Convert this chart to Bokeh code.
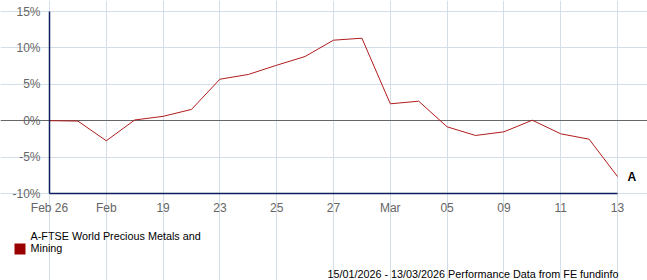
from bokeh.plotting import figure
from bokeh.models import (FixedTicker, Range1d, Label, Grid, BoxAnnotation)
from bokeh.core.properties import value
from bokeh.embed import file_html
from bokeh.resources import INLINE

# Data
tick_labels = ["Feb 26", "Feb", "19", "23", "25", "27", "Mar", "05", "09", "11", "13"]
series_values = [0.0, -0.05, -2.76, 0.1, 0.6, 1.55, 5.7, 6.35, 7.62, 8.82, 11.06,
                 11.33, 2.32, 2.68, -0.84, -2.03, -1.53, 0.07, -1.8, -2.54, -7.67]
y_ticks = [-10, -5, 0, 5, 10, 15]
series_name_line1 = "A-FTSE World Precious Metals and"
series_name_line2 = "Mining"
series_code = "A"
footer = "15/01/2026 - 13/03/2026 Performance Data from FE fundinfo"

x_idx = list(range(len(series_values)))

FONT = "Liberation Sans"
W, H = 647, 280
# plot-area placement in pixels (layout only)
PL, PR, PT, PB = 49, 617, 11, 193
x0, x1 = x_idx[0], x_idx[-1]
y0, y1 = y_ticks[0], y_ticks[-1]
sx = (PR - PL) / (x1 - x0)
sy = (PB - PT) / (y1 - y0)

p = figure(width=W, height=H, output_backend="svg", toolbar_location=None,
           x_range=Range1d(x0 - PL / sx, x1 + (W - PR) / sx),
           y_range=Range1d(y0 - (H - PB) / sy, y1 + PT / sy),
           min_border=0)
p.outline_line_color = None
p.background_fill_color = "white"
p.border_fill_color = "white"

grid_col = "#d3dee8"
axis_col = "#0d1f5e"
p.xaxis.ticker = FixedTicker(ticks=[i * 2 for i in range(len(tick_labels))])
p.xaxis.major_label_overrides = {i * 2: t for i, t in enumerate(tick_labels)}
p.yaxis.ticker = FixedTicker(ticks=y_ticks)
p.yaxis.major_label_overrides = {v: f"{v}%" for v in y_ticks}
p.xaxis.fixed_location = y0
p.yaxis.fixed_location = x0
p.xaxis.bounds = (x0, x1)
p.yaxis.bounds = (y0, y1)
for ax in (p.xaxis[0], p.yaxis[0]):
    ax.axis_line_color = axis_col
    ax.axis_line_width = 1.5
    ax.major_tick_line_color = None
    ax.minor_tick_line_color = None
    ax.major_tick_out = 0
    ax.major_tick_in = 0
    ax.major_label_text_color = "#666666"
    ax.major_label_text_font = FONT
    ax.major_label_text_font_size = "12px"
p.xaxis.major_label_standoff = 7
p.yaxis.major_label_standoff = 9

p.xgrid.grid_line_color = grid_col
p.ygrid.grid_line_color = grid_col
p.xgrid.ticker = p.xaxis.ticker
p.ygrid.ticker = p.yaxis.ticker
p.xgrid.bounds = (y0, y1)
p.ygrid.bounds = (x0, x1)

# zero line
p.add_layout(Grid(dimension=1, ticker=FixedTicker(ticks=[0]), bounds=(x0, x1),
                  grid_line_color="#666666", grid_line_width=1))

p.line(x_idx, series_values, line_color="#b01c1c", line_width=1)

# end-of-series code
p.text(x=[x_idx[-1]], y=[series_values[-1]], text=[series_code], x_offset=10,
       text_font=value(FONT), text_font_style="bold", text_font_size="12px",
       text_color="black", text_baseline="middle", text_align="left")

# legend key square
p.add_layout(BoxAnnotation(left=14, right=25, top=H - 243, bottom=H - 254,
                           left_units="screen", right_units="screen",
                           top_units="screen", bottom_units="screen",
                           fill_color="#990000", fill_alpha=1, line_color=None))

LEG_FS = "10.8px"
p.add_layout(Label(x=30, y=H - 235, x_units="screen", y_units="screen",
                   text=series_name_line1, text_font=FONT,
                   text_font_size=LEG_FS, text_color="black",
                   text_baseline="middle"))
p.add_layout(Label(x=30, y=H - 247.5, x_units="screen", y_units="screen",
                   text=series_name_line2, text_font=FONT,
                   text_font_size=LEG_FS, text_color="black",
                   text_baseline="middle"))

p.add_layout(Label(x=618, y=H - 273, x_units="screen", y_units="screen",
                   text=footer, text_font=FONT, text_font_size="10.8px",
                   text_color="black", text_align="right",
                   text_baseline="middle"))

open("out.html", "w").write(file_html(p, INLINE))
